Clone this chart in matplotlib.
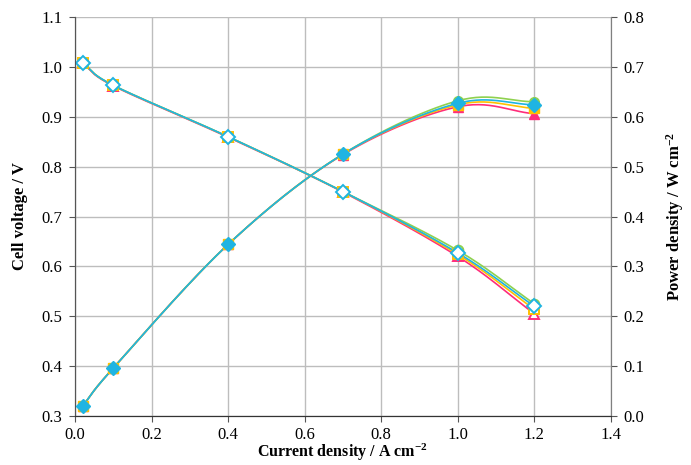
import matplotlib.pyplot as plt
import numpy as np

plt.rcParams['font.family'] = ['Liberation Serif', 'DejaVu Serif']
plt.rcParams['axes.unicode_minus'] = False
plt.rcParams['mathtext.default'] = 'regular'

current = [0.02, 0.1, 0.4, 0.7, 1.0, 1.2]

# cell voltage, V
v_red = [1.007, 0.962, 0.859, 0.749, 0.620, 0.505]
v_orange = [1.008, 0.963, 0.860, 0.750, 0.624, 0.514]
v_green = [1.008, 0.963, 0.860, 0.750, 0.632, 0.525]
v_blue = [1.008, 0.963, 0.860, 0.750, 0.627, 0.520]

# power density, W cm-2
p_red = [0.020, 0.096, 0.344, 0.524, 0.620, 0.606]
p_orange = [0.020, 0.096, 0.344, 0.525, 0.624, 0.617]
p_green = [0.020, 0.096, 0.344, 0.525, 0.632, 0.630]
p_blue = [0.020, 0.096, 0.344, 0.525, 0.627, 0.624]

series = [
    ('#ff2d7a', '^', v_red, p_red),
    ('#ffc000', 's', v_orange, p_orange),
    ('#8fd14f', 'o', v_green, p_green),
    ('#1fb4e2', 'D', v_blue, p_blue),
]


def smooth(x, y, n=30):
    # Catmull-Rom curve through the points, like a spreadsheet "smoothed line"
    x = np.asarray(x, float)
    y = np.asarray(y, float)
    px = np.concatenate([[2 * x[0] - x[1]], x, [2 * x[-1] - x[-2]]])
    py = np.concatenate([[2 * y[0] - y[1]], y, [2 * y[-1] - y[-2]]])
    xs, ys = [], []
    t = np.linspace(0, 1, n)
    for i in range(1, len(px) - 2):
        for arr, out in ((px, xs), (py, ys)):
            p0, p1, p2, p3 = arr[i - 1:i + 3]
            out.extend(0.5 * ((2 * p1) + (-p0 + p2) * t
                              + (2 * p0 - 5 * p1 + 4 * p2 - p3) * t ** 2
                              + (-p0 + 3 * p1 - 3 * p2 + p3) * t ** 3))
    return np.array(xs), np.array(ys)


fig = plt.figure(figsize=(6.91, 4.65), dpi=100)
ax = fig.add_axes([0.1085, 0.1054, 0.7755, 0.858])
ax2 = ax.twinx()

for color, marker, volt, power in series:
    sx, sy = smooth(current, volt)
    ax.plot(sx, sy, color=color, lw=1.2, zorder=3)
    ax.plot(current, volt, ls='none', marker=marker, ms=7, mfc='white',
            mec=color, mew=1.4, zorder=4)
    sx, sy = smooth(current, power)
    ax2.plot(sx, sy, color=color, lw=1.2, zorder=3)
    ax2.plot(current, power, ls='none', marker=marker, ms=7, mfc=color,
             mec=color, mew=1.0, zorder=4)

ax.set_xlim(0, 1.4)
ax.set_ylim(0.3, 1.1)
ax2.set_ylim(0, 0.8)
ax.set_xticks(np.arange(0, 1.41, 0.2))
ax.set_yticks(np.arange(0.3, 1.11, 0.1))
ax2.set_yticks(np.arange(0, 0.81, 0.1))
ax.xaxis.set_major_formatter(plt.FormatStrFormatter('%.1f'))
ax.yaxis.set_major_formatter(plt.FormatStrFormatter('%.1f'))
ax2.yaxis.set_major_formatter(plt.FormatStrFormatter('%.1f'))

ax.grid(True, color='#bdbdbd', lw=1.0)
ax.set_axisbelow(True)

for a in (ax, ax2):
    a.spines['top'].set_visible(False)
    a.spines['left'].set_color('#555555')
    a.spines['right'].set_color('#808080')
    a.spines['bottom'].set_color('#333333')
    a.tick_params(labelsize=12, length=4, color='#555555', pad=5)
ax.tick_params(axis='x', pad=4)

ax.set_xlabel('Current density / A cm$^{-2}$', fontsize=11.5,
              fontweight='bold', labelpad=-1)
ax.set_ylabel('Cell voltage / V', fontsize=12, fontweight='bold', labelpad=10)
ax2.set_ylabel('Power density / W cm$^{-2}$', fontsize=12,
               fontweight='bold', labelpad=14)

fig.savefig('out.png', dpi=100)
